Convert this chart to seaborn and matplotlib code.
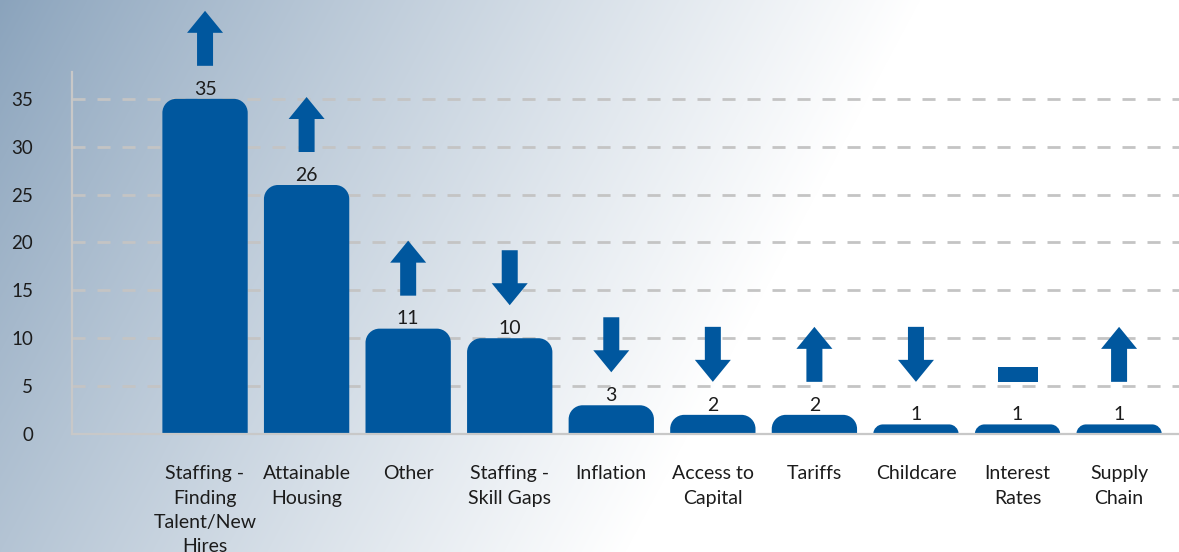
import numpy as np
import matplotlib
matplotlib.use("Agg")
import matplotlib.pyplot as plt
import matplotlib.transforms as mtransforms
from matplotlib.path import Path
from matplotlib.patches import PathPatch, Polygon
import seaborn as sns

categories = ["Staffing - Finding Talent/New Hires", "Attainable Housing", "Other",
              "Staffing - Skill Gaps", "Inflation", "Access to Capital", "Tariffs",
              "Childcare", "Interest Rates", "Supply Chain"]
tick_labels = ["Staffing -\nFinding\nTalent/New\nHires", "Attainable\nHousing", "Other",
               "Staffing -\nSkill Gaps", "Inflation", "Access to\nCapital", "Tariffs",
               "Childcare", "Interest\nRates", "Supply\nChain"]
values = [35, 26, 11, 10, 3, 2, 2, 1, 1, 1]
trends = ["up", "up", "up", "down", "down", "down", "up", "down", "flat", "up"]
y_ticks = [0, 5, 10, 15, 20, 25, 30, 35]

BAR = "#00579e"
TXT = "#1c1c1c"
FONT = ["Lato", "DejaVu Sans"]

sns.set_theme(style="white")
plt.rcParams["font.family"] = FONT

W, H = 1179, 552
fig = plt.figure(figsize=(W / 100, H / 100), dpi=100)

# background gradient
yy, xx = np.mgrid[0:H, 0:W]
t = xx / W + 0.25 * yy / H
f = np.clip(t / 0.78, 0, 1) ** 0.9
c0 = np.array([138, 163, 188]) / 255.0
c1 = np.array([1.0, 1.0, 1.0])
img = c0[None, None, :] * (1 - f[..., None]) + c1[None, None, :] * f[..., None]
fig.figimage(img, 0, 0, zorder=-10)

ax_l, ax_r, ax_t, ax_b = 72, 1179, 72, 434
ax = fig.add_axes([ax_l / W, (H - ax_b) / H, (ax_r - ax_l) / W, (ax_b - ax_t) / H])
ax.patch.set_alpha(0)

sns.barplot(x=categories, y=values, color=BAR, saturation=1, width=0.84, ax=ax, zorder=3)

ax.set_xlim(-1.31, 9.59)
ax.set_ylim(0, 37.8)
ax.set_yticks(y_ticks)
ax.set_xticks(range(len(categories)))
ax.set_xticklabels(tick_labels, fontsize=14, color=TXT, linespacing=1.52)
for lab in ax.get_xticklabels():
    lab.set_multialignment("center")
ax.set_yticklabels([str(v) for v in y_ticks], fontsize=13.5, color=TXT)
ax.tick_params(axis="x", length=0, pad=22.5)
ax.tick_params(axis="y", length=0, pad=28)
ax.set_xlabel("")
ax.set_ylabel("")

for s in ["top", "right"]:
    ax.spines[s].set_visible(False)
for s in ["left", "bottom"]:
    ax.spines[s].set_color("#c8c8c8")
    ax.spines[s].set_linewidth(1.6)
    ax.spines[s].set_zorder(4)

ax.set_axisbelow(True)
ax.yaxis.grid(True, color="#c4c4c4", linewidth=2.0, linestyle=(0, (4.7, 4.3)))
ax.xaxis.grid(False)

# pixel scale
p0 = ax.transData.transform((0, 0))
p1 = ax.transData.transform((1, 1))
ppx = p1[0] - p0[0]
ppy = p1[1] - p0[1]

K = 0.5523
R = 14.0
for patch in list(ax.patches):
    x0 = patch.get_x()
    w = patch.get_width()
    h = patch.get_height()
    x1 = x0 + w
    r = min(R, h * ppy)
    rx = r / ppx
    ry = r / ppy
    verts = [
        (x0, 0), (x0, h - ry),
        (x0, h - ry + K * ry), (x0 + rx - K * rx, h), (x0 + rx, h),
        (x1 - rx, h),
        (x1 - rx + K * rx, h), (x1, h - ry + K * ry), (x1, h - ry),
        (x1, 0), (x0, 0),
    ]
    codes = [Path.MOVETO, Path.LINETO,
             Path.CURVE4, Path.CURVE4, Path.CURVE4,
             Path.LINETO,
             Path.CURVE4, Path.CURVE4, Path.CURVE4,
             Path.LINETO, Path.CLOSEPOLY]
    ax.add_patch(PathPatch(Path(verts, codes), facecolor=BAR, edgecolor="none", zorder=3))
    patch.set_visible(False)

# value labels
for i, v in enumerate(values):
    ax.annotate(str(v), (i, v), xytext=(0, 3), textcoords="offset points",
                ha="center", va="baseline", fontsize=14, color=TXT, zorder=5)

# trend arrows (pixel geometry)
shapes = {
    "up": [(-8, 0), (8, 0), (8, 33), (18, 33), (0, 55), (-18, 33), (-8, 33)],
    "down": [(0, 0), (18, 22), (8, 22), (8, 55), (-8, 55), (-8, 22), (-18, 22)],
    "flat": [(-20, 0), (20, 0), (20, 15), (-20, 15)],
}
for i, (v, tr) in enumerate(zip(values, trends)):
    base = max(v, 2)
    tf = mtransforms.Affine2D().translate(0, 33) + mtransforms.ScaledTranslation(i, base, ax.transData)
    ax.add_patch(Polygon(shapes[tr], closed=True, facecolor=BAR, edgecolor="none",
                         transform=tf, clip_on=False, zorder=5))

fig.savefig("out.png", dpi=100)
